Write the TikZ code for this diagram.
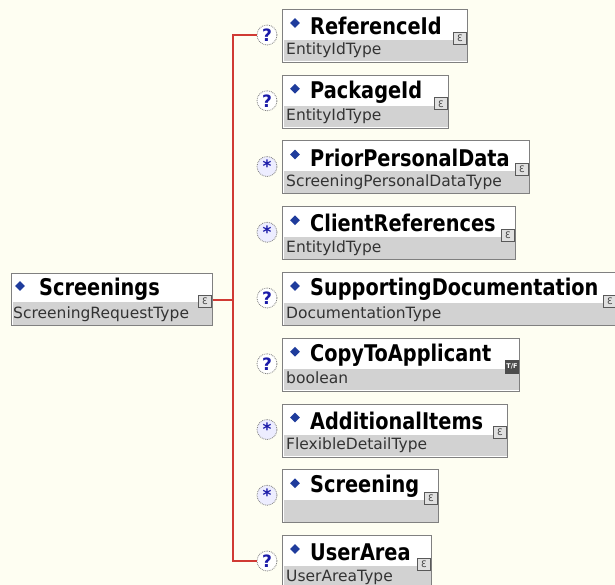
\documentclass[tikz,border=0pt]{standalone}
\usepackage{fontspec}
\setmainfont{DejaVu Sans}
\newfontfamily\namefont[FakeStretch=0.84]{DejaVu Sans Bold}
\newfontfamily\typefont{DejaVu Sans}
\usetikzlibrary{calc,shapes.geometric}
\definecolor{bgcream}{HTML}{FEFEF2}
\definecolor{boxborder}{HTML}{808080}
\definecolor{typegray}{HTML}{D2D2D2}
\definecolor{linered}{HTML}{D03A34}
\definecolor{dblue}{HTML}{1F3C9C}
\definecolor{qblue}{HTML}{1A1AA8}
\tikzset{
  elbox/.style={draw=boxborder, line width=1pt, fill=white, anchor=north west, minimum height=53pt, inner sep=0pt},
  namestyle/.style={anchor=west, inner sep=0pt, font=\namefont\fontsize{23}{23}\selectfont, text=black},
  typestyle/.style={anchor=base west, inner sep=0pt, font=\typefont\fontsize{15.5}{15.5}\selectfont, text=black!80},
  bullet/.style={diamond, fill=dblue, minimum width=10pt, minimum height=10pt, inner sep=0pt},
  iconbox/.style={draw=black!65, fill=black!12, line width=0.8pt, minimum width=13pt, minimum height=12pt, inner sep=0pt, font=\typefont\fontsize{9}{9}\selectfont, text=black!75},
  tficon/.style={draw=black!70, fill=black!70, line width=0.8pt, minimum width=13pt, minimum height=13pt, inner sep=0pt, font=\typefont\bfseries\fontsize{6.5}{6.5}\selectfont, text=white},
  card/.style={circle, draw=black!50, densely dotted, line width=0.8pt, minimum size=20pt, inner sep=0pt, font=\typefont\bfseries\fontsize{17}{17}\selectfont, text=qblue},
  optcard/.style={card, fill=white},
  manycard/.style={card, fill=blue!7},
  redline/.style={draw=linered, line width=2pt},
}
\newcommand{\elem}[7]{%
  % #1 id, #2 top, #3 width, #4 name, #5 type, #6 card style, #7 card symbol
  \node[elbox, minimum width=#3pt] (#1) at (282,#2) {};
  \fill[typegray] ($(#1.south west)+(1.5,-1.5)$) rectangle ($(#1.north east)+(-1.5,31)$);
  \node[bullet] (#1d) at ($(#1.north west)+(13,14)$) {};
  \node[namestyle] (#1n) at ($(#1.north west)+(28,17)$) {#4};
  \node[typestyle] (#1t) at ($(#1.north west)+(4,46)$) {#5};
  \node[#6] (#1c) at (267,#2+26) {#7};
}
\begin{document}
\begin{tikzpicture}[x=1pt,y=-1pt]
\clip (0,0) rectangle (615,585);
\fill[bgcream] (0,0) rectangle (615,585);

% root
\node[elbox, minimum width=201pt, minimum height=52pt] (root) at (11,273) {};
\fill[typegray] ($(root.south west)+(1.5,-1.5)$) rectangle ($(root.north east)+(-1.5,29)$);
\node[bullet] (rootd) at ($(root.north west)+(9,13)$) {};
\node[namestyle] (rootn) at ($(root.north west)+(28,16)$) {Screenings};
\node[typestyle] (roott) at ($(root.north west)+(2,45)$) {ScreeningRequestType};
\node[iconbox] (rooti) at ($(root.north east)+(-8,28)$) {ℇ};

\elem{e0}{9}{185}{ReferenceId}{EntityIdType}{optcard}{?}
\elem{e1}{74.75}{166}{PackageId}{EntityIdType}{optcard}{?}
\elem{e2}{140.5}{247}{PriorPersonalData}{ScreeningPersonalDataType}{manycard}{*}
\elem{e3}{206.25}{233}{ClientReferences}{EntityIdType}{manycard}{*}
\elem{e4}{272}{335}{SupportingDocumentation}{DocumentationType}{optcard}{?}
\elem{e5}{337.75}{237}{CopyToApplicant}{boolean}{optcard}{?}
\elem{e6}{403.5}{225}{AdditionalItems}{FlexibleDetailType}{manycard}{*}
\elem{e7}{469.25}{156}{Screening}{}{manycard}{*}
\elem{e8}{535}{149}{UserArea}{UserAreaType}{optcard}{?}

% icons
\foreach \e in {e0,e1,e2,e3,e4,e6,e7,e8}{
  \node[iconbox] (\e i) at ($(\e.north east)+(-8,29)$) {ℇ};
}
\node[tficon] (e5i) at ($(e5.north east)+(-8,29)$) {T/F};

% connectors
\coordinate (jt) at (233,299.5);
\draw[redline] (root.east) -- (jt);
\draw[redline] (e0c.west) -| (jt);
\draw[redline] (jt) |- (e8c.west);
\end{tikzpicture}
\end{document}
